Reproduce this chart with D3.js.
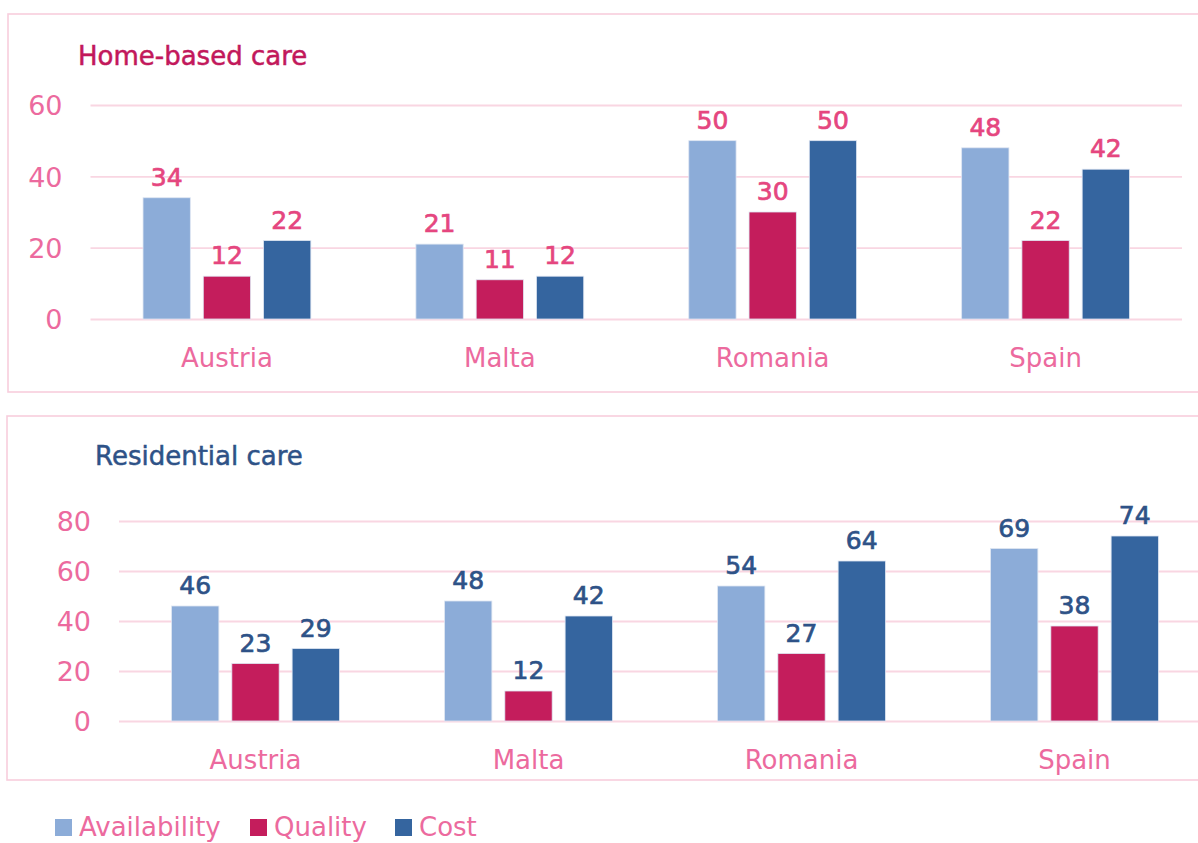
<!DOCTYPE html>
<html>
<head>
<meta charset="utf-8">
<script src="https://cdn.jsdelivr.net/npm/d3@7"></script>
<style>
  html, body { margin: 0; padding: 0; background: #ffffff; }
  svg { display: block; }
  text { font-family: "DejaVu Sans", sans-serif; }
</style>
</head>
<body>
<svg id="chart" width="1198" height="843"></svg>
<script>
const countries = ["Austria", "Malta", "Romania", "Spain"];
const seriesNames = ["Availability", "Quality", "Cost"];
const homeAvailability = [34, 21, 50, 48];
const homeQuality = [12, 11, 30, 22];
const homeCost = [22, 12, 50, 42];
const resAvailability = [46, 48, 54, 69];
const resQuality = [23, 12, 27, 38];
const resCost = [29, 42, 64, 74];
const homeTicks = [0, 20, 40, 60];
const resTicks = [0, 20, 40, 60, 80];
const panelTitles = ["Home-based care", "Residential care"];

const colors = ["#8CACD8", "#C41D5C", "#35659F"];
const gridColor = "#F9D6E2";
const borderColor = "#F8CEDD";
const axisText = "#EC6A9E";

const svg = d3.select("#chart");

function panel(cfg) {
  const g = svg.append("g");
  g.append("rect")
    .attr("x", cfg.box[0]).attr("y", cfg.box[1])
    .attr("width", cfg.box[2]).attr("height", cfg.box[3])
    .attr("fill", "none").attr("stroke", borderColor).attr("stroke-width", 1.6);

  const y = d3.scaleLinear().domain([0, d3.max(cfg.ticks)]).range(cfg.yRange);
  const x0 = d3.scaleBand().domain(countries).range(cfg.xRange)
    .paddingInner(0.385).paddingOuter(0.1925);
  const x1 = d3.scaleBand().domain(seriesNames).range([0, x0.bandwidth()])
    .paddingInner(0.215).paddingOuter(0);

  const yAxis = d3.axisLeft(y).tickValues(cfg.ticks)
    .tickSize(-(cfg.xRange[1] - cfg.xRange[0])).tickPadding(28).tickFormat(d3.format("d"));
  const ya = g.append("g").attr("transform", `translate(${cfg.xRange[0]},0)`).call(yAxis);
  ya.select(".domain").remove();
  ya.selectAll(".tick line").attr("stroke", gridColor).attr("stroke-width", 1.8);
  ya.selectAll(".tick text").attr("fill", axisText).attr("font-size", 27)
    .attr("font-family", "DejaVu Sans").attr("dy", "0.36em");

  const xAxis = d3.axisBottom(x0).tickSize(0).tickPadding(0);
  const xa = g.append("g").attr("transform", `translate(0,${cfg.yRange[0]})`).call(xAxis);
  xa.select(".domain").remove();
  xa.selectAll(".tick text").attr("fill", axisText).attr("font-size", 26)
    .attr("font-family", "DejaVu Sans").attr("dy", null).attr("y", 48);

  const groups = g.selectAll(".grp").data(countries).join("g")
    .attr("transform", d => `translate(${x0(d)},0)`);

  groups.each(function(c, i) {
    const vals = cfg.series.map((s, k) => ({ name: seriesNames[k], v: s[i], k }));
    const gg = d3.select(this);
    gg.selectAll("rect").data(vals).join("rect")
      .attr("x", d => x1(d.name))
      .attr("width", x1.bandwidth())
      .attr("y", d => y(d.v))
      .attr("height", d => y(0) - y(d.v))
      .attr("fill", d => colors[d.k])
      .attr("stroke", "#dfe6f2").attr("stroke-width", 0.8);
    gg.selectAll("text.lbl").data(vals).join("text")
      .attr("class", "lbl")
      .attr("x", d => x1(d.name) + x1.bandwidth() / 2)
      .attr("y", d => y(d.v) - 12)
      .attr("text-anchor", "middle")
      .attr("font-size", 25)
      .attr("fill", cfg.labelColor)
      .attr("stroke", cfg.labelColor).attr("stroke-width", 0.7)
      .text(d => d.v);
  });

  g.append("text")
    .attr("x", cfg.title[0]).attr("y", cfg.title[1])
    .attr("font-size", 26).attr("fill", cfg.titleColor)
    .attr("stroke", cfg.titleColor).attr("stroke-width", 0.5)
    .text(cfg.titleText);
}

panel({
  box: [8, 14, 1200, 378],
  xRange: [90.5, 1182],
  yRange: [319, 105],
  ticks: homeTicks,
  series: [homeAvailability, homeQuality, homeCost],
  labelColor: "#E5467F",
  titleColor: "#C2185B",
  titleText: panelTitles[0],
  title: [78, 65]
});

panel({
  box: [7, 416, 1200, 364],
  xRange: [119, 1211],
  yRange: [721, 521],
  ticks: resTicks,
  series: [resAvailability, resQuality, resCost],
  labelColor: "#2E5287",
  titleColor: "#2E5287",
  titleText: panelTitles[1],
  title: [95, 465]
});

const legendX = [55, 250, 395];
const leg = svg.append("g");
seriesNames.forEach((n, i) => {
  leg.append("rect").attr("x", legendX[i]).attr("y", 819)
    .attr("width", 17).attr("height", 17).attr("fill", colors[i]);
  leg.append("text").attr("x", legendX[i] + 24).attr("y", 836)
    .attr("font-size", 26).attr("fill", axisText).text(n);
});
</script>
</body>
</html>
